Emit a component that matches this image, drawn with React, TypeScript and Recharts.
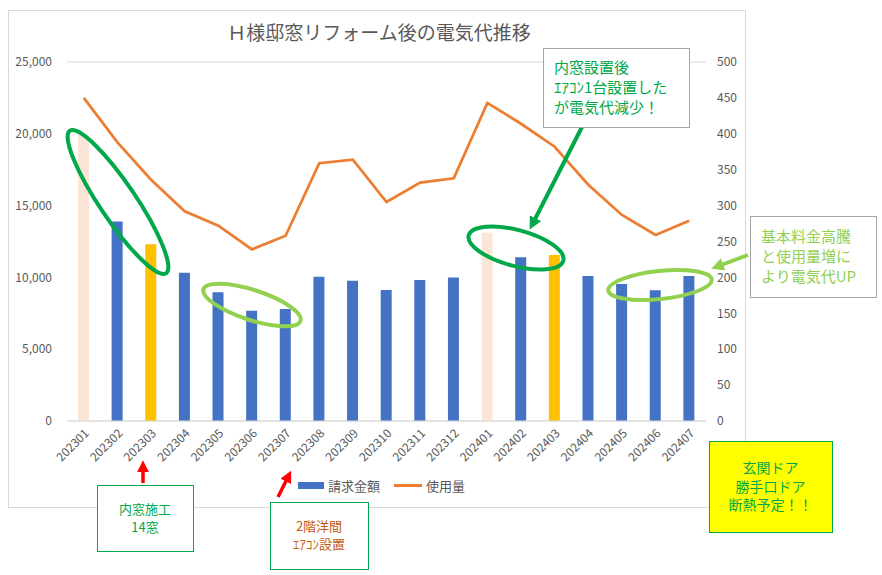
import React from "react";
import {
  Bar,
  CartesianGrid,
  Cell,
  ComposedChart,
  Legend,
  Line,
  XAxis,
  YAxis
} from "recharts";

const months = [
  "202301", "202302", "202303", "202304", "202305", "202306", "202307",
  "202308", "202309", "202310", "202311", "202312", "202401", "202402",
  "202403", "202404", "202405", "202406", "202407"
];
const billing = [
  19900, 13900, 12300, 10330, 8960, 7680, 7800, 10050, 9770, 9120, 9820,
  10000, 13110, 11400, 11560, 10100, 9540, 9100, 10100
];
const usage = [
  450, 388, 336, 292, 272, 239, 258, 359, 364, 305, 332, 338, 443, 414, 382,
  329, 287, 259, 279
];
// "winter" = peach, "after" = gold, otherwise plain blue
const barKinds = [
  "winter", "", "after", "", "", "", "", "", "", "", "", "",
  "winter", "", "after", "", "", "", ""
];
const leftTicks = [0, 5000, 10000, 15000, 20000, 25000];
const rightTicks = [0, 50, 100, 150, 200, 250, 300, 350, 400, 450, 500];

const BLUE = "#4472C4";
const ORANGE = "#ED7D31";
const kindColor: Record<string, string> = {
  winter: "#FBE5D6",
  after: "#FFC000",
  "": BLUE
};
const GREEN = "#00A84A";
const LIGHT_GREEN = "#92D050";
const FONT = "'Noto Sans CJK JP', 'Noto Sans', sans-serif";
const GRAY = "#595959";

const data = months.map((month, i) => ({
  month,
  請求金額: billing[i],
  使用量: usage[i]
}));

const XTick = ({ x, y, payload }: any) => (
  <g transform={`translate(${x + 3},${y + 2})`}>
    <text
      textAnchor="end"
      transform="rotate(-45)"
      dy="0.35em"
      fontSize={12}
      fill={GRAY}
      fontFamily={FONT}
    >
      {payload.value}
    </text>
  </g>
);

const LegendContent = () => (
  <div
    style={{
      display: "flex",
      justifyContent: "center",
      alignItems: "center",
      fontFamily: FONT,
      fontSize: 13,
      color: GRAY,
      paddingLeft: 10
    }}
  >
    <span style={{ width: 26, height: 7, background: BLUE, marginRight: 4 }} />
    <span style={{ marginRight: 14 }}>請求金額</span>
    <span style={{ width: 28, height: 3, background: ORANGE, marginRight: 4 }} />
    <span>使用量</span>
  </div>
);

const Box = ({ x, y, w, h, stroke, fill = "#fff", color, lines, size, anchor, lh }: any) => {
  const tx = anchor === "middle" ? x + w / 2 : x + 11;
  const first = y + h / 2 - ((lines.length - 1) * lh) / 2;
  return (
    <g>
      <rect x={x + 0.5} y={y + 0.5} width={w} height={h} fill={fill} stroke={stroke} />
      {lines.map((t: string, i: number) => (
        <text
          key={i}
          x={tx}
          y={first + i * lh}
          dy="0.36em"
          textAnchor={anchor}
          fontSize={size}
          fill={color}
          fontFamily={FONT}
        >
          {t}
        </text>
      ))}
    </g>
  );
};

const Overlay = () => (
  <svg
    width={882}
    height={575}
    style={{ position: "absolute", left: 0, top: 0, pointerEvents: "none" }}
  >
    <defs>
      <marker id="hGreen" viewBox="0 0 10 10" refX="6" refY="5" markerWidth="3.2" markerHeight="3.2" orient="auto">
        <path d="M0,0 L10,5 L0,10 z" fill={GREEN} />
      </marker>
      <marker id="hLight" viewBox="0 0 10 10" refX="6" refY="5" markerWidth="3.2" markerHeight="3.2" orient="auto">
        <path d="M0,0 L10,5 L0,10 z" fill={LIGHT_GREEN} />
      </marker>
      <marker id="hRed" viewBox="0 0 10 10" refX="6" refY="5" markerWidth="3.4" markerHeight="3.4" orient="auto">
        <path d="M0,0 L10,5 L0,10 z" fill="#FF0000" />
      </marker>
    </defs>
    <rect x={8.5} y={10.5} width={737} height={497} fill="none" stroke="#D9D9D9" />
    <text x={379} y={33} dy="0.36em" textAnchor="middle" fontSize={19} fill={GRAY} fontFamily={FONT}>
      Ｈ様邸窓リフォーム後の電気代推移
    </text>

    <ellipse cx={118} cy={202} rx={86} ry={18} transform="rotate(56 118 202)" fill="none" stroke={GREEN} strokeWidth={4} />
    <ellipse cx={252} cy={305} rx={51} ry={15} transform="rotate(18 252 305)" fill="none" stroke={LIGHT_GREEN} strokeWidth={4} />
    <ellipse cx={516} cy={248} rx={49} ry={18} transform="rotate(15 516 248)" fill="none" stroke={GREEN} strokeWidth={4} />
    <ellipse cx={660} cy={285} rx={52} ry={14} transform="rotate(-6 660 285)" fill="none" stroke={LIGHT_GREEN} strokeWidth={4} />

    <line x1={582} y1={127} x2={532} y2={225} stroke={GREEN} strokeWidth={4} markerEnd="url(#hGreen)" />
    <line x1={748} y1={255} x2={716} y2={267} stroke={LIGHT_GREEN} strokeWidth={4} markerEnd="url(#hLight)" />
    <line x1={143} y1={483} x2={143} y2={465} stroke="#FF0000" strokeWidth={3.5} markerEnd="url(#hRed)" />
    <line x1={278} y1={497} x2={289} y2={475} stroke="#FF0000" strokeWidth={3.5} markerEnd="url(#hRed)" />

    <Box x={543} y={48} w={146} h={79} stroke="#A6A6A6" color={GREEN} size={15} anchor="start" lh={20}
      lines={["内窓設置後", "ｴｱｺﾝ1台設置した", "が電気代減少！"]} />
    <Box x={750} y={216} w={126} h={81} stroke="#A6A6A6" color={LIGHT_GREEN} size={15} anchor="start" lh={20}
      lines={["基本料金高騰", "と使用量増に", "より電気代UP"]} />
    <Box x={97} y={485} w={96} h={66} stroke={GREEN} color={GREEN} size={13} anchor="middle" lh={18}
      lines={["内窓施工", "14窓"]} />
    <Box x={270} y={502} w={98} h={67} stroke={GREEN} color="#C55A11" size={13} anchor="middle" lh={18}
      lines={["2階洋間", "ｴｱｺﾝ設置"]} />
    <Box x={709} y={441} w={123} h={91} stroke={GREEN} fill="#FFFF00" color={GREEN} size={14} anchor="middle" lh={18.5}
      lines={["玄関ドア", "勝手口ドア", "断熱予定！！"]} />
  </svg>
);

export default function App() {
  return (
    <div style={{ position: "absolute", left: 0, top: 0, width: 882, height: 575, background: "#fff" }}>
      <div style={{ position: "absolute", left: 8, top: 10 }}>
        <ComposedChart
          width={737}
          height={497}
          data={data}
          margin={{ top: 52, right: 0, bottom: 26, left: 0 }}
        >
          <CartesianGrid vertical={false} stroke="#D9D9D9" />
          <XAxis
            dataKey="month"
            interval={0}
            tickLine={false}
            axisLine={{ stroke: "#D9D9D9" }}
            height={60}
            tick={<XTick />}
          />
          <YAxis
            yAxisId="left"
            width={59}
            domain={[0, 25000]}
            ticks={leftTicks}
            axisLine={false}
            tickLine={false}
            tickSize={0}
            tickMargin={15}
            tickFormatter={(v: number) => v.toLocaleString("en-US")}
            tick={{ fontSize: 12, fill: GRAY, fontFamily: FONT }}
          />
          <YAxis
            yAxisId="right"
            orientation="right"
            width={39}
            domain={[0, 500]}
            ticks={rightTicks}
            axisLine={false}
            tickLine={false}
            tickSize={0}
            tickMargin={11}
            tick={{ fontSize: 12, fill: GRAY, fontFamily: FONT, textAnchor: "start" }}
          />
          <Legend
            verticalAlign="middle"
            align="center"
            layout="horizontal"
            content={<LegendContent />}
            wrapperStyle={{ top: 466, left: 0, width: 737 }}
          />
          <Bar yAxisId="left" dataKey="請求金額" barSize={11} fill={BLUE} isAnimationActive={false}>
            {barKinds.map((k, i) => (
              <Cell key={i} fill={kindColor[k]} />
            ))}
          </Bar>
          <Line
            yAxisId="right"
            dataKey="使用量"
            stroke={ORANGE}
            strokeWidth={2.75}
            dot={false}
            activeDot={false}
            isAnimationActive={false}
          />
        </ComposedChart>
      </div>
      <Overlay />
    </div>
  );
}
